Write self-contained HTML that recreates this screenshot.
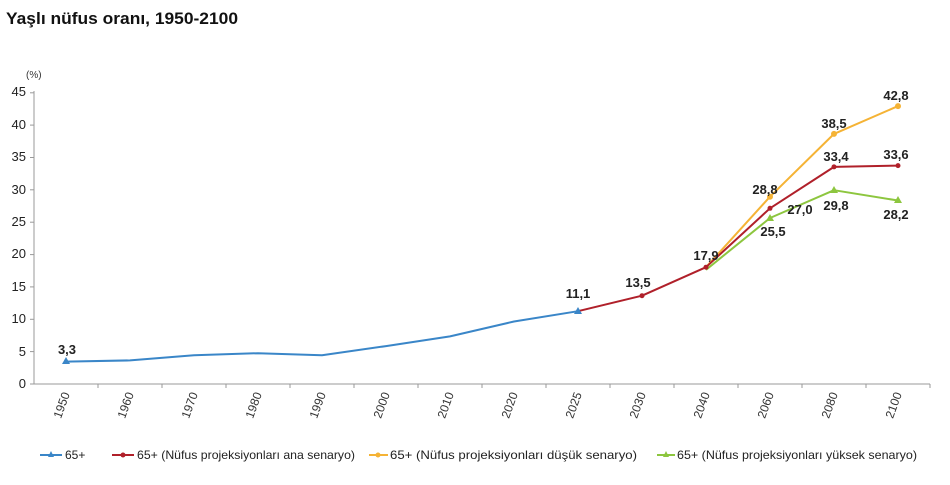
<!DOCTYPE html>
<html><head><meta charset="utf-8"><style>
body{margin:0;background:#fff;width:950px;height:480px;overflow:hidden}
svg{font-family:"Liberation Sans",sans-serif}
</style></head><body>
<svg width="950" height="480" viewBox="0 0 950 480">
<text x="6" y="24" font-size="17" font-weight="bold" fill="#111" textLength="232" lengthAdjust="spacingAndGlyphs">Yaşlı nüfus oranı, 1950-2100</text>
<text x="26" y="78" font-size="10" fill="#333">(%)</text>
<g stroke="#999" stroke-width="1">
<line x1="34" y1="91" x2="34" y2="384"/>
<line x1="34" y1="384" x2="930" y2="384"/>
</g>
<g font-size="13" fill="#222" text-anchor="end">
<text x="26" y="388">0</text><text x="26" y="356">5</text><text x="26" y="323">10</text>
<text x="26" y="291">15</text><text x="26" y="258">20</text><text x="26" y="226">25</text>
<text x="26" y="194">30</text><text x="26" y="161">35</text><text x="26" y="129">40</text>
<text x="26" y="96">45</text>
</g>
<g stroke="#999"><line x1="30" y1="384" x2="34" y2="384"/><line x1="30" y1="351.6" x2="34" y2="351.6"/><line x1="30" y1="319.3" x2="34" y2="319.3"/><line x1="30" y1="286.9" x2="34" y2="286.9"/><line x1="30" y1="254.6" x2="34" y2="254.6"/><line x1="30" y1="222.2" x2="34" y2="222.2"/><line x1="30" y1="189.8" x2="34" y2="189.8"/><line x1="30" y1="157.5" x2="34" y2="157.5"/><line x1="30" y1="125.1" x2="34" y2="125.1"/><line x1="30" y1="92.8" x2="34" y2="92.8"/>
<line x1="98" y1="384" x2="98" y2="388"/><line x1="162" y1="384" x2="162" y2="388"/><line x1="226" y1="384" x2="226" y2="388"/><line x1="290" y1="384" x2="290" y2="388"/><line x1="354" y1="384" x2="354" y2="388"/><line x1="418" y1="384" x2="418" y2="388"/><line x1="482" y1="384" x2="482" y2="388"/><line x1="546" y1="384" x2="546" y2="388"/><line x1="610" y1="384" x2="610" y2="388"/><line x1="674" y1="384" x2="674" y2="388"/><line x1="738" y1="384" x2="738" y2="388"/><line x1="802" y1="384" x2="802" y2="388"/><line x1="866" y1="384" x2="866" y2="388"/><line x1="930" y1="384" x2="930" y2="388"/>
</g>
<g font-size="12" fill="#333" text-anchor="end">
<text transform="translate(70,394) rotate(-70)">1950</text>
<text transform="translate(134,394) rotate(-70)">1960</text>
<text transform="translate(198,394) rotate(-70)">1970</text>
<text transform="translate(262,394) rotate(-70)">1980</text>
<text transform="translate(326,394) rotate(-70)">1990</text>
<text transform="translate(390,394) rotate(-70)">2000</text>
<text transform="translate(454,394) rotate(-70)">2010</text>
<text transform="translate(518,394) rotate(-70)">2020</text>
<text transform="translate(582,394) rotate(-70)">2025</text>
<text transform="translate(646,394) rotate(-70)">2030</text>
<text transform="translate(710,394) rotate(-70)">2040</text>
<text transform="translate(774,394) rotate(-70)">2060</text>
<text transform="translate(838,394) rotate(-70)">2080</text>
<text transform="translate(902,394) rotate(-70)">2100</text>
</g>
<g fill="none" stroke-width="2" stroke-linejoin="round">
<polyline stroke="#3a86c8" points="66,361.6 130,360.4 194,355.2 258,353.2 322,355.2 386,346.1 450,336.4 514,321.5 578,311.2"/>
<polyline stroke="#f5b335" points="706,267.2 770,196.7 834,133.9 898,106.1"/>
<polyline stroke="#8dc63f" points="706,269.8 770,218 834,190.2 898,200.5"/>
<polyline stroke="#b0202a" points="578,311.2 642,295.7 706,267.2 770,208.3 834,166.9 898,165.6"/>
</g>
<g>
<polygon points="66,357 62,364 70,364" fill="#3a86c8"/>
<polygon points="578,307 574,314 582,314" fill="#3a86c8"/>
<circle cx="770" cy="196.7" r="3" fill="#f5b335"/><circle cx="834" cy="133.9" r="3" fill="#f5b335"/><circle cx="898" cy="106.1" r="3" fill="#f5b335"/>
<polygon points="770,214 766,221 774,221" fill="#8dc63f"/><polygon points="834,186 830,193 838,193" fill="#8dc63f"/><polygon points="898,196 894,203 902,203" fill="#8dc63f"/>
<circle cx="642" cy="295.7" r="2.5" fill="#b0202a"/><circle cx="706" cy="267.2" r="2.5" fill="#b0202a"/><circle cx="770" cy="208.3" r="2.5" fill="#b0202a"/><circle cx="834" cy="166.9" r="2.5" fill="#b0202a"/><circle cx="898" cy="165.6" r="2.5" fill="#b0202a"/>
</g>
<g font-size="13" font-weight="bold" fill="#222" text-anchor="middle">
<text x="67" y="354">3,3</text>
<text x="578" y="298">11,1</text>
<text x="638" y="287">13,5</text>
<text x="706" y="260">17,9</text>
<text x="765" y="194">28,8</text>
<text x="800" y="214">27,0</text>
<text x="773" y="236">25,5</text>
<text x="834" y="128">38,5</text>
<text x="836" y="161">33,4</text>
<text x="896" y="159">33,6</text>
<text x="896" y="100">42,8</text>
<text x="836" y="210">29,8</text>
<text x="896" y="219">28,2</text>
</g>
<g font-size="12" fill="#222">
<line x1="40" y1="455" x2="62" y2="455" stroke="#3a86c8" stroke-width="2"/><polygon points="51,451 48,457 54,457" fill="#3a86c8"/>
<text x="65" y="459">65+</text>
<line x1="112" y1="455" x2="134" y2="455" stroke="#b0202a" stroke-width="2"/><circle cx="123" cy="455" r="2.5" fill="#b0202a"/>
<text x="137" y="459" textLength="218" lengthAdjust="spacingAndGlyphs">65+ (Nüfus projeksiyonları ana senaryo)</text>
<line x1="369" y1="455" x2="388" y2="455" stroke="#f5b335" stroke-width="2"/><circle cx="378" cy="455" r="2.5" fill="#f5b335"/>
<text x="390" y="459" textLength="247" lengthAdjust="spacingAndGlyphs">65+ (Nüfus projeksiyonları düşük senaryo)</text>
<line x1="657" y1="455" x2="675" y2="455" stroke="#8dc63f" stroke-width="2"/><polygon points="666,451 663,457 669,457" fill="#8dc63f"/>
<text x="677" y="459" textLength="240" lengthAdjust="spacingAndGlyphs">65+ (Nüfus projeksiyonları yüksek senaryo)</text>
</g>
</svg>
</body></html>
